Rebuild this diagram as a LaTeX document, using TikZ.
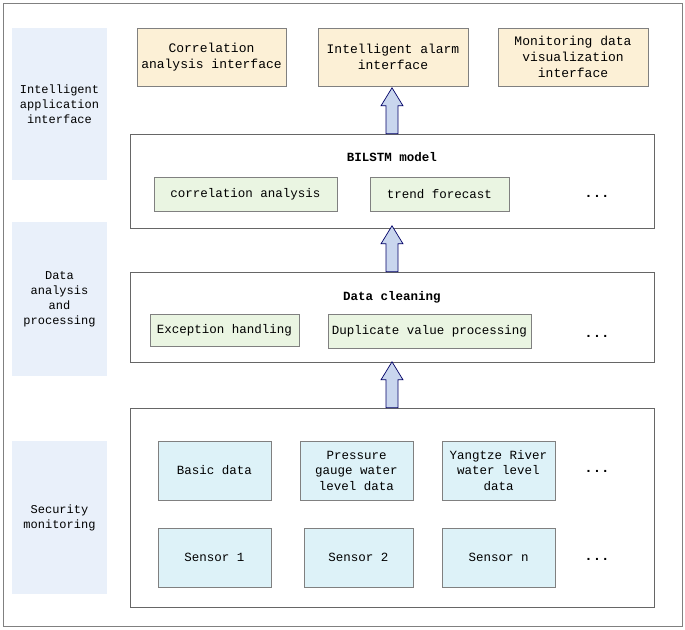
\documentclass[tikz,border=0pt]{standalone}
\usepackage{fontspec}
\setmainfont{Liberation Mono}
\definecolor{labc}{HTML}{E9F0FA}
\definecolor{topc}{HTML}{FCF0D6}
\definecolor{grnc}{HTML}{EAF5E2}
\definecolor{cync}{HTML}{DDF2F8}
\definecolor{arrc}{HTML}{C9D6EE}
\begin{document}
\begin{tikzpicture}[x=1pt,y=-1pt,
  lab/.style={draw=none,fill=labc,align=center,font=\fontsize{12}{15}\selectfont},
  top/.style={draw=gray,fill=topc,align=center,font=\fontsize{13}{16}\selectfont},
  grp/.style={draw=gray!80!black,fill=white},
  grn/.style={draw=gray,fill=grnc,font=\fontsize{12.5}{15}\selectfont},
  cyn/.style={draw=gray,fill=cync,align=center,font=\fontsize{12.5}{15.5}\selectfont},
  ttl/.style={font=\fontsize{12.5}{15}\selectfont\bfseries},
  dots/.style={font=\fontsize{14}{16}\selectfont\bfseries},
  barr/.style={draw=blue!40!black,fill=arrc,line width=0.7pt}]
\useasboundingbox (0,0) rectangle (685,629);
\draw[gray] (3,3) rectangle (682,626);
\node[lab,minimum width=95pt,minimum height=152pt] (l1) at (59.5,104) {Intelligent\\application\\interface};
\node[lab,minimum width=95pt,minimum height=154pt] (l2) at (59.5,299) {Data\\analysis\\and\\processing};
\node[lab,minimum width=95pt,minimum height=153pt] (l3) at (59.5,517.5) {Security\\monitoring};
\node[top,minimum width=149pt,minimum height=58pt] (t1) at (211.5,57) {Correlation\\analysis interface};
\node[top,minimum width=150pt,minimum height=58pt] (t2) at (393,57) {Intelligent alarm\\interface};
\node[top,minimum width=150pt,minimum height=58pt] (t3) at (573,57) {Monitoring data\\visualization\\interface};
\node[grp,minimum width=524pt,minimum height=94pt] (m) at (392,181) {};
\node[ttl] (mt) at (392,157) {BILSTM model};
\node[grn,minimum width=183pt,minimum height=34pt] (m1) at (245.5,194) {correlation analysis};
\node[grn,minimum width=139pt,minimum height=34pt] (m2) at (439.5,194) {trend forecast};
\node[dots] (m3) at (597,196) {...};
\node[grp,minimum width=524pt,minimum height=90pt] (c) at (392,317) {};
\node[ttl] (ct) at (392,297) {Data cleaning};
\node[grn,minimum width=149pt,minimum height=32pt] (c1) at (224.5,330) {Exception handling};
\node[grn,minimum width=203pt,minimum height=34pt] (c2) at (429.5,331) {Duplicate value processing};
\node[dots] (c3) at (597,336) {...};
\node[grp,minimum width=524pt,minimum height=199pt] (s) at (392,507.5) {};
\node[cyn,minimum width=113pt,minimum height=59pt] (s1) at (214.5,470.5) {Basic data};
\node[cyn,minimum width=113pt,minimum height=59pt] (s2) at (356.5,470.5) {Pressure\\gauge water\\level data};
\node[cyn,minimum width=113pt,minimum height=59pt] (s3) at (498.5,470.5) {Yangtze River\\water level\\data};
\node[dots] (s4) at (597,471) {...};
\node[cyn,minimum width=113pt,minimum height=59pt] (r1) at (214.5,557.5) {Sensor 1};
\node[cyn,minimum width=109pt,minimum height=59pt] (r2) at (358.5,557.5) {Sensor 2};
\node[cyn,minimum width=113pt,minimum height=59pt] (r3) at (498.5,557.5) {Sensor n};
\node[dots] (r4) at (597,559) {...};
\foreach \a in {s,c,m}{
  \draw[barr] (\a.north -| 392,0) ++(-6,0) -- ++(0,-28) -- ++(-5,0) -- ++(11,-18) -- ++(11,18) -- ++(-5,0) -- ++(0,28) -- cycle;
}
\end{tikzpicture}
\end{document}
